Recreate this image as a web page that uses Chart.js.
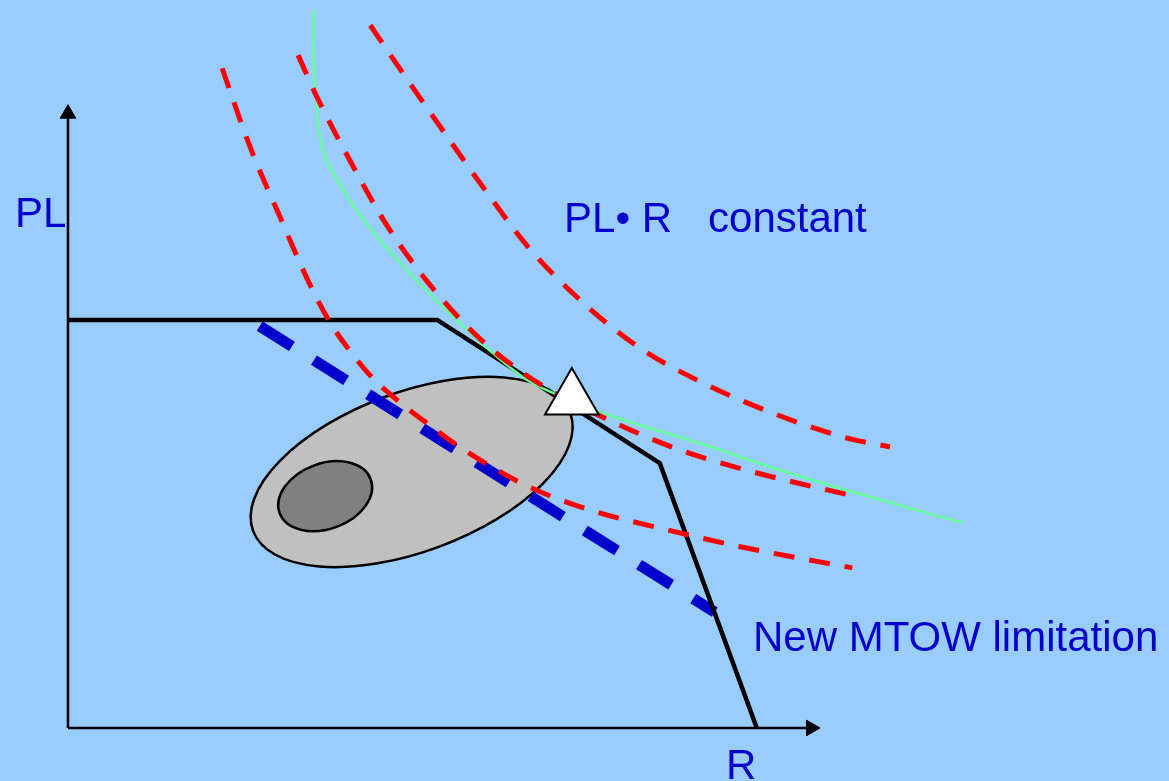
<!DOCTYPE html>
<html>
<head>
<meta charset="utf-8">
<script src="https://cdn.jsdelivr.net/npm/chart.js@4/dist/chart.umd.min.js"></script>
<style>
  html, body { margin: 0; padding: 0; background: #99CCFF; }
  #box { width: 1169px; height: 781px; }
</style>
</head>
<body>
<div id="box"><canvas id="chart"></canvas></div>
<script>
// payload-range diagram, R on x, PL on y (relative units, axes go 0..10)

// payload-range envelope
const envelopeR  = [0, 4.91, 7.87, 9.16];
const envelopePL = [6.55, 6.55, 4.25, 0];

// new MTOW limitation (blue dashed)
const mtowR  = [2.55, 8.60];
const mtowPL = [6.45, 1.86];

// PL*R = const curves (red dashed)
const hyp1R  = [2.05, 2.42, 2.82, 3.22, 3.48, 3.72, 4.04, 4.41, 4.81, 5.21, 6.08, 6.94, 7.97, 8.94, 10.43];
const hyp1PL = [10.59, 9.33, 8.20, 7.11, 6.52, 6.10, 5.63, 5.23, 4.86, 4.51, 3.90, 3.50, 3.18, 2.91, 2.57];
const hyp2R  = [3.06, 3.31, 3.78, 4.26, 4.85, 5.52, 6.34, 7.25, 8.14, 9.11, 10.49];
const hyp2PL = [10.80, 10.13, 9.04, 8.03, 7.06, 6.20, 5.47, 4.91, 4.46, 4.11, 3.71];
const hyp3R  = [4.02, 4.38, 4.95, 5.52, 6.12, 6.81, 7.58, 8.44, 9.36, 10.31, 10.93];
const hyp3PL = [11.28, 10.64, 9.65, 8.68, 7.72, 6.87, 6.12, 5.54, 5.06, 4.67, 4.51];

// tangent curve (green)
const tanR  = [3.26, 3.27, 3.31, 3.36, 3.46, 3.58, 3.84, 4.15, 4.51, 4.85, 5.21, 5.57, 6.10, 6.45, 7.07, 8.40, 9.73, 11.90];
const tanPL = [11.52, 10.61, 9.92, 9.44, 9.07, 8.80, 8.31, 7.83, 7.35, 6.92, 6.50, 6.10, 5.59, 5.38, 5.07, 4.57, 4.04, 3.29];

// design point (triangle)
const pointR  = [6.70];
const pointPL = [5.28];

// axes
const axisXR  = [0, 9.88];
const axisXPL = [0, 0];
const axisYR  = [0, 0];
const axisYPL = [0, 9.86];

// market regions (ellipses): centre, semi axes in R units, angle in degrees
const regionCenterR  = [4.57, 3.42];
const regionCenterPL = [4.11, 3.72];
const regionAxisA    = [2.25, 0.646];
const regionAxisB    = [1.06, 0.435];
const regionAngle    = [-20.4, -20.4];

// texts
const labelTexts = ['PL', 'PL\u2022 R', 'constant', 'New MTOW limitation', 'R'];
const labelR     = [-0.705, 6.596, 8.511, 9.109, 8.750];
const labelPL    = [8.042, 7.961, 7.961, 1.236, -0.819];

const BLUE = '#0000CC';
const RED = '#FF0000';

function pts(xs, ys) {
    return xs.map((x, i) => ({x: x, y: ys[i]}));
}

function lineSet(xs, ys, color, width, dash, order, extra) {
    return Object.assign({
        data: pts(xs, ys),
        showLine: true,
        borderColor: color,
        borderWidth: width,
        borderDash: dash,
        borderCapStyle: 'butt',
        pointRadius: 0,
        fill: false,
        clip: false,
        order: order
    }, extra || {});
}

// фон
const backgroundPlugin = {
    id: 'bg',
    beforeDraw(chart) {
        const ctx = chart.ctx;
        ctx.save();
        ctx.fillStyle = '#99CCFF';
        ctx.fillRect(0, 0, chart.width, chart.height);
        ctx.restore();
    }
};

// эллипсы под линиями
const ellipsePlugin = {
    id: 'regions',
    beforeDatasetsDraw(chart) {
        const ctx = chart.ctx;
        const sx = chart.scales.x, sy = chart.scales.y;
        const fills = ['#C0C0C0', '#808080'];
        ctx.save();
        regionCenterR.forEach((cr, i) => {
            const px = sx.getPixelForValue(cr);
            const py = sy.getPixelForValue(regionCenterPL[i]);
            const ra = sx.getPixelForValue(cr + regionAxisA[i]) - px;
            const rb = sx.getPixelForValue(cr + regionAxisB[i]) - px;
            ctx.beginPath();
            ctx.ellipse(px, py, ra, rb, regionAngle[i] * Math.PI / 180, 0, Math.PI * 2);
            ctx.fillStyle = fills[i];
            ctx.fill();
            ctx.lineWidth = 2.5;
            ctx.strokeStyle = '#000000';
            ctx.stroke();
        });
        ctx.restore();
    }
};

// подписи
const labelPlugin = {
    id: 'labels',
    afterDraw(chart) {
        const ctx = chart.ctx;
        const sx = chart.scales.x, sy = chart.scales.y;
        ctx.save();
        ctx.font = '42px "Liberation Sans", Arial, sans-serif';
        ctx.fillStyle = BLUE;
        ctx.textAlign = 'left';
        ctx.textBaseline = 'alphabetic';
        labelTexts.forEach((t, i) => {
            ctx.fillText(t, sx.getPixelForValue(labelR[i]), sy.getPixelForValue(labelPL[i]));
        });
        ctx.restore();
    }
};

new Chart(document.getElementById('chart'), {
    type: 'scatter',
    data: {
        datasets: [
            {
                data: pts(pointR, pointPL),
                pointStyle: 'triangle',
                pointRadius: 31,
                pointBackgroundColor: '#FFFFFF',
                pointBorderColor: '#000000',
                pointBorderWidth: 2,
                clip: false,
                order: 0
            },
            lineSet(hyp1R, hyp1PL, RED, 5, [21, 15], 1, {cubicInterpolationMode: 'monotone'}),
            lineSet(hyp2R, hyp2PL, RED, 5, [21, 15], 1, {cubicInterpolationMode: 'monotone'}),
            lineSet(hyp3R, hyp3PL, RED, 5, [21, 15], 1, {cubicInterpolationMode: 'monotone'}),
            lineSet(tanR, tanPL, '#66FF99', 2.5, [], 2, {tension: 0.4}),
            lineSet(envelopeR, envelopePL, '#000000', 4.5, [], 3),
            lineSet(mtowR, mtowPL, BLUE, 11, [38, 26], 4),
            lineSet(axisXR, axisXPL, '#000000', 2.5, [], 5),
            lineSet(axisYR, axisYPL, '#000000', 2.5, [], 5),
            {
                // наконечники осей
                data: [{x: axisXR[1], y: axisXPL[1]}, {x: axisYR[1], y: axisYPL[1]}],
                pointStyle: 'triangle',
                pointRadius: 9,
                pointRotation: [90, 0],
                pointBackgroundColor: '#000000',
                pointBorderColor: '#000000',
                pointBorderWidth: 1,
                clip: false,
                order: 5
            }
        ]
    },
    options: {
        responsive: true,
        maintainAspectRatio: false,
        animation: false,
        layout: {padding: 0, autoPadding: false},
        scales: {
            x: {type: 'linear', min: -0.904, max: 14.641, display: false},
            y: {type: 'linear', min: -0.851, max: 11.685, display: false}
        },
        plugins: {
            legend: {display: false},
            tooltip: {enabled: false}
        },
        elements: {line: {borderJoinStyle: 'miter'}}
    },
    plugins: [backgroundPlugin, ellipsePlugin, labelPlugin]
});
</script>
</body>
</html>
